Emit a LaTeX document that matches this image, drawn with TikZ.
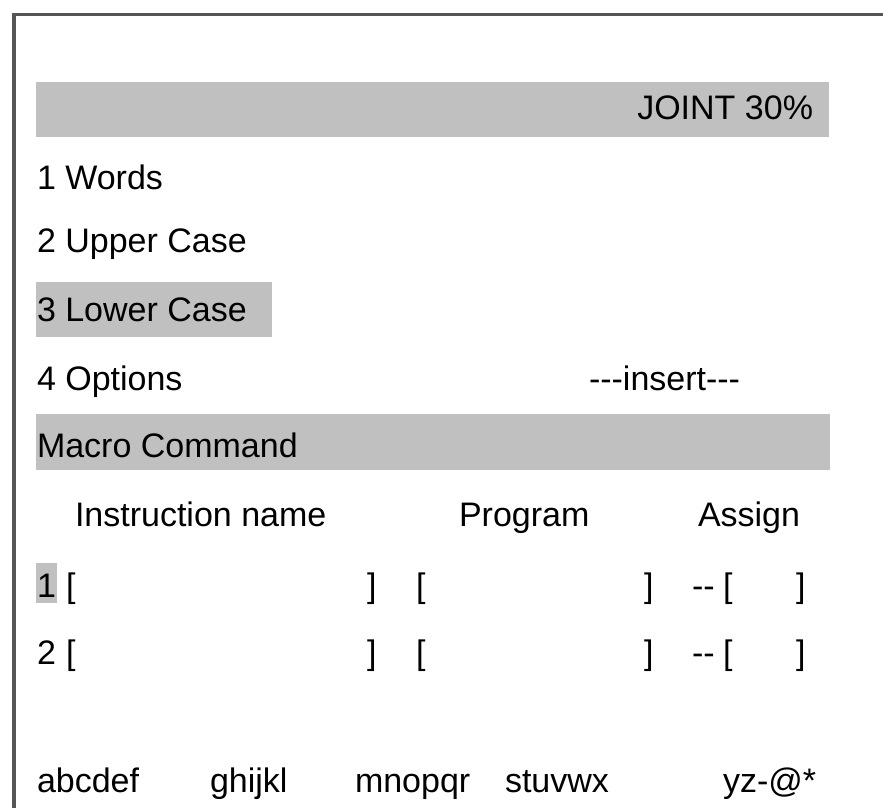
\documentclass[tikz,border=0pt]{standalone}
\usepackage{fontspec}
\setmainfont{Liberation Sans}
\begin{document}
\begin{tikzpicture}[x=1pt,y=-1pt,
  txt/.style={anchor=base west,inner sep=0pt,outer sep=0pt,font=\fontsize{34}{40}\selectfont},
  bar/.style={fill=bargray,draw=none}]
\definecolor{bargray}{HTML}{C0C0C0}
\definecolor{framegray}{HTML}{555555}
\useasboundingbox (0,0) rectangle (883,808);
% frame
\draw[framegray,line width=3.5pt] (14,808) -- (14,14.5) -- (883,14.5);
% bars
\fill[bar] (36,82) rectangle (829,137);
\fill[bar] (36,282) rectangle (272,337);
\fill[bar] (36,414) rectangle (830,470);
\fill[bar] (36,563) rectangle (57,603);
% texts
\node[txt,anchor=base east] (joint) at (813,119) {JOINT 30\%};
\node[txt] (m1) at (37,189) {1 Words};
\node[txt] (m2) at (37,252) {2 Upper Case};
\node[txt] (m3) at (37,321) {3 Lower Case};
\node[txt] (m4) at (37,390) {4 Options};
\node[txt] (ins) at (589,390) {-{}-{}-insert-{}-{}-};
\node[txt] (macro) at (37,457) {Macro Command};
\node[txt] (h1) at (75,526) {Instruction name};
\node[txt] (h2) at (459,526) {Program};
\node[txt] (h3) at (698,526) {Assign};
% row 1
\node[txt] (r1n) at (37,597) {1};
\node[txt] (r1a) at (66,597) {[};
\node[txt] (r1b) at (367,597) {]};
\node[txt] (r1c) at (416,597) {[};
\node[txt] (r1d) at (644,597) {]};
\node[txt] (r1e) at (692,597) {-{}-};
\node[txt] (r1f) at (723,597) {[};
\node[txt] (r1g) at (796,597) {]};
% row 2
\node[txt] (r2n) at (37,664) {2};
\node[txt] (r2a) at (66,664) {[};
\node[txt] (r2b) at (367,664) {]};
\node[txt] (r2c) at (416,664) {[};
\node[txt] (r2d) at (644,664) {]};
\node[txt] (r2e) at (692,664) {-{}-};
\node[txt] (r2f) at (723,664) {[};
\node[txt] (r2g) at (796,664) {]};
% bottom row
\node[txt] (k1) at (37,792) {abcdef};
\node[txt] (k2) at (210,792) {ghijkl};
\node[txt] (k3) at (355,792) {mnopqr};
\node[txt] (k4) at (505,792) {stuvwx};
\node[txt] (k5) at (723,792) {yz-@*};
\end{tikzpicture}
\end{document}
